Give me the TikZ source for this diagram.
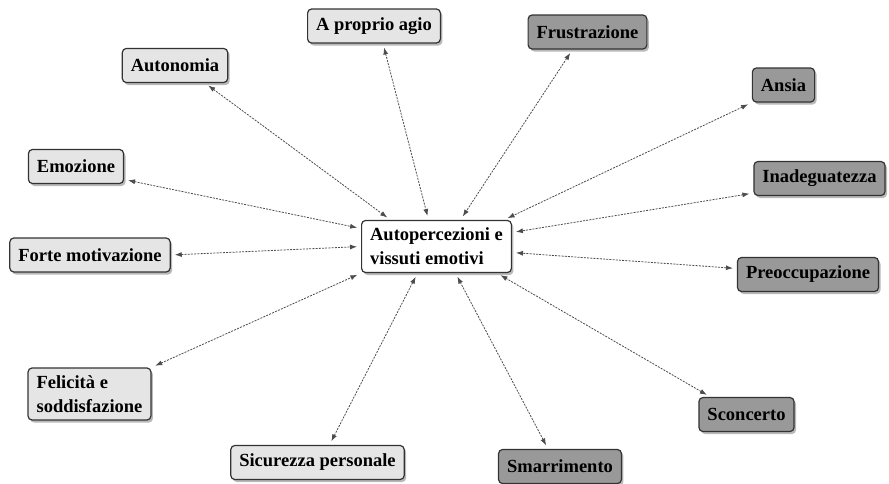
\documentclass[tikz,border=0pt]{standalone}
\usepackage{fontspec}
\setmainfont{Liberation Serif}
\usetikzlibrary{shadows}
\usetikzlibrary{arrows.meta}

\begin{document}
\begin{tikzpicture}[x=1pt,y=-1pt]

  \tikzset{concept/.style = {shape=rectangle,rounded corners=4pt,draw=black!80,line width=1.2pt,
      font=\fontsize{18.5}{24}\selectfont\bfseries,inner xsep=8.5pt,inner ysep=7.5pt,
      minimum height=34pt,align=left,
      drop shadow={shadow xshift=2pt,shadow yshift=-2.5pt,fill=black!55}}}
  \tikzset{pale/.style = {concept,fill=black!10}}
  \tikzset{dark/.style = {concept,fill=black!40}}
  \tikzset{link/.style = {{Latex[length=7pt,width=5pt]}-{Latex[length=7pt,width=5pt]},
      draw=black!70,line width=0.8pt,dash pattern=on 2pt off 1.2pt,
      shorten <=4pt,shorten >=4pt}}
  \useasboundingbox (0,0) rectangle (889,483);
  % concepts
  \node[concept,fill=white] (core) at (436.5,246.5) {Autopercezioni e\\vissuti emotivi};
  \node[pale] (autonomia)   at (175,65.5)  {Autonomia};
  \node[pale] (agio)        at (374,26)    {A proprio agio};
  \node[dark] (frustrazione) at (587.5,32) {Frustrazione};
  \node[dark] (ansia)       at (783.5,85)  {Ansia};
  \node[pale] (emozione)    at (76,166.5)  {Emozione};
  \node[dark] (inadeguatezza) at (819.5,178.5) {Inadeguatezza};
  \node[pale] (motivazione) at (90,255)    {Forte motivazione};
  \node[dark] (preoccupazione) at (808,274.5) {Preoccupazione};
  \node[pale] (felicita)    at (89.5,394)  {Felicità e\\soddisfazione};
  \node[dark] (sconcerto)   at (746.5,414.5) {Sconcerto};
  \node[pale] (sicurezza)   at (317.5,462.5) {Sicurezza personale};
  \node[dark] (smarrimento) at (560,466.5) {Smarrimento};
  % links
  \draw[link] ([xshift=30pt]autonomia.south) -- ([xshift=-46pt]core.north);
  \draw[link] ([xshift=9pt]agio.south) -- ([xshift=-8pt]core.north);
  \draw[link] ([xshift=-15pt]frustrazione.south) -- ([xshift=24pt]core.north);
  \draw[link] (ansia.south west) -- ([xshift=-8pt]core.north east);
  \draw[link] ([yshift=3pt]inadeguatezza.south west) -- ([yshift=14pt]core.east);
  \draw[link] ([yshift=6pt]preoccupazione.west) -- ([yshift=-6pt]core.east);
  \draw[link] ([xshift=12pt]sconcerto.north west) -- ([xshift=-15pt]core.south east);
  \draw[link] ([xshift=-12pt]smarrimento.north) -- ([xshift=19pt]core.south);
  \draw[link] ([xshift=12pt]sicurezza.north) -- ([xshift=-19pt]core.south);
  \draw[link] (felicita.north east) -- (core.south west);
  \draw[link] (motivazione.east) -- (core.west);
  \draw[link] ([yshift=-13pt]emozione.east) -- ([yshift=18pt]core.west);
\end{tikzpicture}
\end{document}
